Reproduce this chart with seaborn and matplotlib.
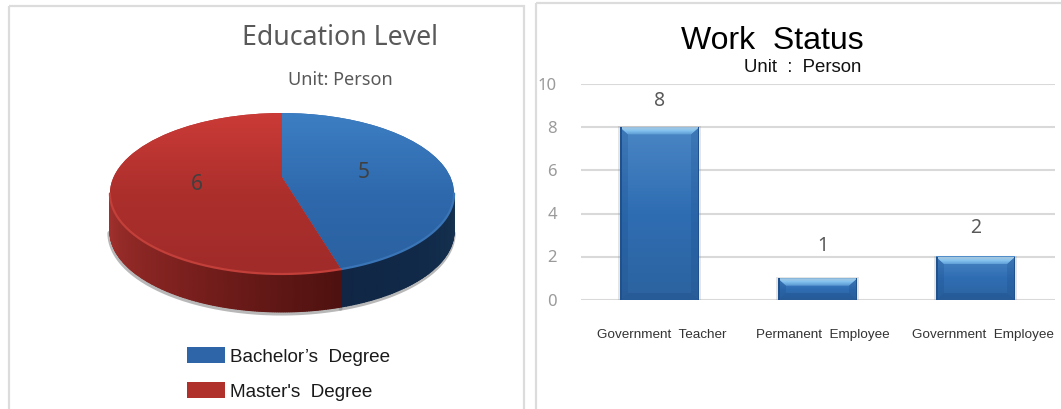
import numpy as np
import pandas as pd
import matplotlib
matplotlib.use("Agg")
import matplotlib.pyplot as plt
import seaborn as sns
from matplotlib.colors import LinearSegmentedColormap
from matplotlib.patches import Rectangle
from matplotlib.transforms import Transform, ScaledTranslation

education_labels = ["Bachelor’s  Degree", "Master's  Degree"]
education_values = [5, 6]

work_labels = ["Government  Teacher", "Permanent  Employee", "Government  Employee"]
work_values = [8, 1, 2]

W, H = 1061, 410

# pie view: centre point, perspective and thickness, in image pixels
CX, CY = 282, 178
SX, SY, TILT = 168.4, 77.1, 0.205
DEPTH = 38


def tilt_xy(x, y):
    k = 1 + TILT * y
    return CX + SX * x / k, CY - SY * y / k


class TiltTransform(Transform):
    input_dims = 2
    output_dims = 2
    is_affine = False

    def transform_non_affine(self, values):
        xp, yp = tilt_xy(values[:, 0], values[:, 1])
        return np.column_stack([xp, yp])


def px_axes(fig, left, top, right, bottom):
    return fig.add_axes([left / W, 1 - bottom / H, (right - left) / W, (bottom - top) / H])


sns.set_theme(style="white")
plt.rcParams["font.family"] = ["Liberation Sans", "DejaVu Sans"]

fig = plt.figure(figsize=(W / 100, H / 100), dpi=100, facecolor="white")

# ---- left panel ----
ax = fig.add_axes([0, 0, 1, 1])
pie_colors = ["#2e64a8", "#b0302c"]
wedges, _ = ax.pie(education_values, colors=pie_colors, startangle=90, counterclock=False)
ax.set_aspect("auto")
ax.set_xlim(0, W)
ax.set_ylim(H, 0)
ax.axis("off")

tilt = TiltTransform() + ax.transData
top_maps = [
    LinearSegmentedColormap.from_list("blue_top", ["#3d7fc4", "#2f69ad", "#29609f"]),
    LinearSegmentedColormap.from_list("red_top", ["#cc3b37", "#ac2f2c", "#9f2b29"]),
]
gradient = np.linspace(0, 1, 200).reshape(-1, 1)
for wedge, cmap in zip(wedges, top_maps):
    wedge.set_transform(tilt)
    wedge.set_edgecolor("none")
    wedge.set_zorder(3)
    im = ax.imshow(gradient, cmap=cmap, aspect="auto", extent=(100, 464, 280, 110), zorder=4)
    im.set_clip_path(wedge)
ax.set_xlim(0, W)
ax.set_ylim(H, 0)

# side wall, split where the slices meet
split = np.pi / 2 - 2 * np.pi * education_values[0] / sum(education_values)
edge = np.arcsin(TILT)
side_parts = [
    (np.linspace(split, -edge, 80), ["#102644", "#112a4a", "#16324f"], "#3a75b8"),
    (np.linspace(-np.pi + edge, split, 160), ["#a5322e", "#7e211f", "#4e110f"], "#c23f3a"),
]
for theta, shades, rim in side_parts:
    xp, yp = tilt_xy(np.cos(theta), np.sin(theta))
    ax.plot(xp - 0.5, yp + DEPTH + 1.5, color="#8a8a8a", lw=3, alpha=0.6, zorder=1)
    shade = np.linspace(0, 1, len(theta))
    ax.pcolormesh(
        np.column_stack([xp, xp]),
        np.column_stack([yp, yp + DEPTH]),
        np.column_stack([shade, shade]),
        cmap=LinearSegmentedColormap.from_list("side", shades),
        shading="gouraud",
        zorder=2,
    )
    ax.plot(xp, yp, color=rim, lw=1.6, zorder=5)

ax.text(340, 38, "Education Level", fontsize=19.2, color="#595959", family="Noto Sans",
        ha="center", va="center")
ax.text(340, 80, "Unit: Person", fontsize=13, color="#595959", family="Noto Sans",
        ha="center", va="center")
ax.text(364, 173, str(education_values[0]), fontsize=15, color="#404040", family="Noto Sans",
        ha="center", va="center", zorder=6)
ax.text(197, 185, str(education_values[1]), fontsize=15, color="#404040", family="Noto Sans",
        ha="center", va="center", zorder=6)

ax.legend(
    wedges, education_labels, loc="upper left", bbox_to_anchor=(170, 331),
    bbox_transform=ax.transData, frameon=False, fontsize=13.6, handlelength=2.03,
    handleheight=0.9, handletextpad=0.24, labelspacing=0.88, labelcolor="#1a1a1a",
)

# panel outlines, open at the image edge
ax.add_patch(Rectangle((9, 7), 515, 420, fill=False, edgecolor="#dcdcdc", lw=1.6, zorder=0))
ax.add_patch(Rectangle((536, 4), 540, 420, fill=False, edgecolor="#dcdcdc", lw=1.6, zorder=0))

ax.text(772, 41, "Work  Status", fontsize=23, color="black", ha="center", va="center")
ax.text(803, 68, "Unit  :  Person", fontsize=13.4, color="#111111", ha="center", va="center")

# ---- right panel ----
df = pd.DataFrame({"status": work_labels, "person": work_values})
ax2 = px_axes(fig, 580.5, 85, 1054.5, 301)
ax2.patch.set_alpha(0)
sns.barplot(data=df, x="status", y="person", color="#2e69ad", width=0.5, ax=ax2,
            saturation=1, linewidth=0, zorder=3)
ax2.set_xlim(-0.5, 2.5)
ax2.set_ylim(0, 10)
ax2.set_xlabel("")
ax2.set_ylabel("")
ax2.set_yticks(range(0, 11, 2))
ax2.yaxis.grid(True, color="#d9d9d9", lw=1.5)
ax2.set_axisbelow(True)
sns.despine(ax=ax2, left=True, bottom=True)
ax2.tick_params(axis="x", length=0, pad=20, labelsize=9.7, labelcolor="#333333")
ax2.tick_params(axis="y", length=0, pad=17, labelsize=12, labelcolor="#9a9a9a")
for lab in ax2.get_yticklabels():
    lab.set_family("Noto Sans")
    lab.set_transform(lab.get_transform() + ScaledTranslation(0, 1 / 72, fig.dpi_scale_trans))
for lab, shift in zip(ax2.get_xticklabels(), [2.5, 5, 7]):
    lab.set_transform(lab.get_transform() + ScaledTranslation(shift * 0.72 / 72, 0, fig.dpi_scale_trans))

unit_x = 1 / 158
unit_y = 1 / 21.6
body_map = LinearSegmentedColormap.from_list("bar_body", ["#4a86c5", "#2f6db3", "#2c639f"])
bevel_map = LinearSegmentedColormap.from_list("bar_bevel", ["#a9c6dc", "#86c4ef", "#5f9fd6"])
for bar in ax2.patches:
    x0, w, h = bar.get_x(), bar.get_width(), bar.get_height()
    x1 = x0 + w
    ax2.add_patch(Rectangle((x0 - 2 * unit_x, -3 * unit_y), w + 4 * unit_x, h + 4 * unit_y,
                            facecolor="#808080", alpha=0.2, edgecolor="none", zorder=2))
    ax2.imshow(gradient, cmap=body_map, aspect="auto", extent=(x0, x1, 0, h), zorder=3.5)
    bev_x, bev_y = 8 * unit_x, 7 * unit_y
    # soft darkened sides and foot, then the light top face
    ax2.fill([x0, x0 + bev_x, x0 + bev_x, x0], [h, h - bev_y, bev_y, 0],
             color="#1d4f8c", alpha=0.25, lw=0, zorder=4)
    ax2.fill([x1, x1 - bev_x, x1 - bev_x, x1], [h, h - bev_y, bev_y, 0],
             color="#1d4f8c", alpha=0.25, lw=0, zorder=4)
    ax2.fill([x0, x1, x1 - bev_x, x0 + bev_x], [0, 0, bev_y, bev_y],
             color="#1d4f8c", alpha=0.4, lw=0, zorder=4)
    ax2.fill([x0, x0 + 1.5 * unit_x, x0 + 1.5 * unit_x, x0], [h, h, 0, 0],
             color="#20518f", lw=0, zorder=4.2)
    ax2.fill([x1, x1 - 1.5 * unit_x, x1 - 1.5 * unit_x, x1], [h, h, 0, 0],
             color="#20518f", lw=0, zorder=4.2)
    top_face = ax2.fill([x0, x1, x1 - bev_x, x0 + bev_x], [h, h, h - bev_y, h - bev_y],
                        color="#74b4e6", lw=0, zorder=4.1)[0]
    face = ax2.imshow(gradient, cmap=bevel_map, aspect="auto",
                      extent=(x0, x1, h - bev_y, h), zorder=4.15)
    face.set_clip_path(top_face)
ax2.set_xlim(-0.5, 2.5)
ax2.set_ylim(0, 10)

label_offsets = [(0, 27), (5, 33), (0, 30)]
for i, (val, off) in enumerate(zip(work_values, label_offsets)):
    ax2.annotate(str(val), (i, val), xytext=(off[0] * 0.72, off[1] * 0.72),
                 textcoords="offset points", ha="center", va="center",
                 fontsize=14, color="#595959", family="Noto Sans", zorder=6)

fig.savefig("out.png", dpi=100)
